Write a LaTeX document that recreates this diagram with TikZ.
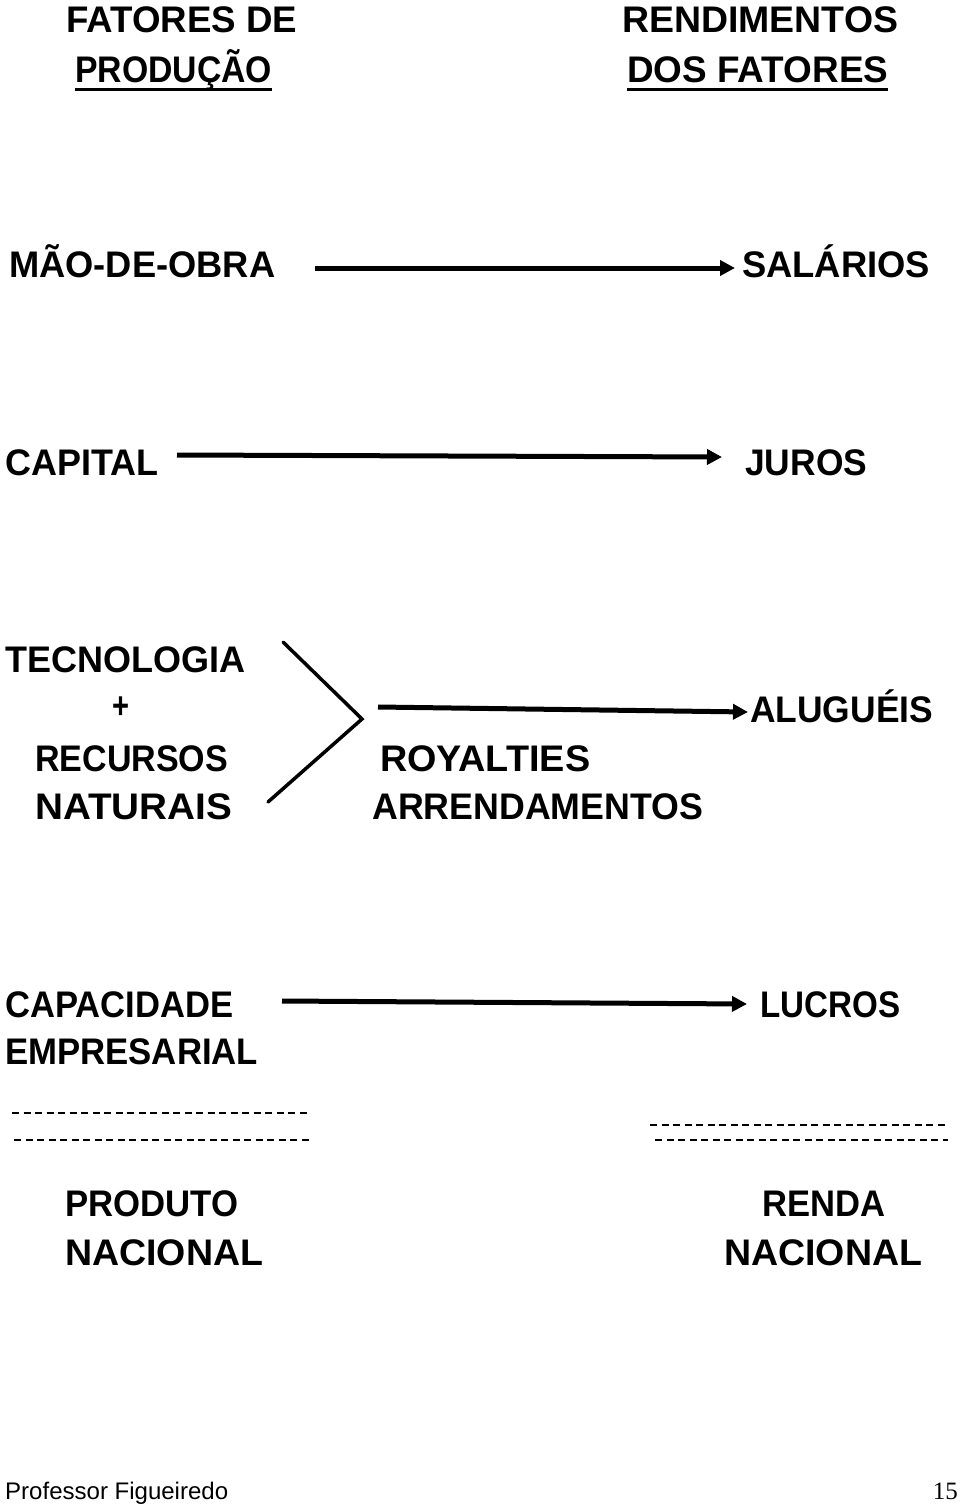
\documentclass[tikz,border=0pt]{standalone}
\usepackage{fontspec}
\usepackage{graphicx}
\setmainfont{Liberation Sans}
\newfontfamily\numfont{Liberation Serif}
\newcommand\fitw[2]{\resizebox{#1pt}{\height}{#2}}
\usetikzlibrary{arrows.meta}
\begin{document}
\begin{tikzpicture}[x=1pt,y=-1pt,
  lbl/.style={anchor=base west,inner sep=0pt,font=\bfseries\fontsize{37}{40}\selectfont},
  foot/.style={anchor=base west,inner sep=0pt,font=\fontsize{24}{26}\selectfont},
  flow/.style={line width=5pt,-{Triangle[length=15pt,width=15pt]}},
  chev/.style={line width=3.5pt,line cap=round},
  dashline/.style={line width=2pt,dash pattern=on 7pt off 4.5pt},
  uline/.style={line width=3pt}]
\useasboundingbox (0,0) rectangle (960,1504);
% headers
\node[lbl] (fat) at (66,33) {\fitw{231}{FATORES DE}};
\node[lbl] (prod) at (75,82) {\fitw{197}{PRODUÇÃO}};
\draw[uline] ([yshift=-7pt]prod.base west) -- ([yshift=-7pt]prod.base east);
\node[lbl] (rend) at (622,33) {\fitw{276}{RENDIMENTOS}};
\node[lbl] (dos) at (627,82) {\fitw{261}{DOS FATORES}};
\draw[uline] ([yshift=-7pt]dos.base west) -- ([yshift=-7pt]dos.base east);
% row 1
\node[lbl] (mao) at (9,277) {\fitw{266}{MÃO-DE-OBRA}};
\node[lbl] (sal) at (742,277) {\fitw{188}{SALÁRIOS}};
\coordinate (a1s) at (315,268);
\coordinate (a1e) at (735,268);
\draw[flow] (a1s) -- (a1e);
% row 2
\node[lbl] (cap) at (5,475) {\fitw{153}{CAPITAL}};
\node[lbl] (jur) at (745,475) {\fitw{122}{JUROS}};
\coordinate (a2s) at (177,455);
\coordinate (a2e) at (722,457);
\draw[flow] (a2s) -- (a2e);
% row 3
\node[lbl] (tec) at (5,672) {\fitw{240}{TECNOLOGIA}};
\node[lbl] (plus) at (112,718) {\fitw{17}{+}};
\node[lbl] (rec) at (35,771) {\fitw{193}{RECURSOS}};
\node[lbl] (nat) at (35,819) {\fitw{197}{NATURAIS}};
\coordinate (c1) at (283,642);
\coordinate (c2) at (362,719);
\coordinate (c3) at (268,802);
\draw[chev] (c1) -- (c2) -- (c3);
\node[lbl] (alu) at (750,722) {\fitw{183}{ALUGUÉIS}};
\coordinate (a3s) at (378,707);
\coordinate (a3e) at (748,712);
\draw[flow] (a3s) -- (a3e);
\node[lbl] (roy) at (380,771) {\fitw{210}{ROYALTIES}};
\node[lbl] (arr) at (372,819) {\fitw{331}{ARRENDAMENTOS}};
% row 4
\node[lbl] (capa) at (5,1017) {\fitw{228}{CAPACIDADE}};
\node[lbl] (emp) at (5,1064) {\fitw{253}{EMPRESARIAL}};
\node[lbl] (luc) at (760,1017) {\fitw{140}{LUCROS}};
\coordinate (a4s) at (282,1001);
\coordinate (a4e) at (747,1004);
\draw[flow] (a4s) -- (a4e);
% dashes
\coordinate (d1s) at (12,1113); \coordinate (d1e) at (308,1113);
\coordinate (d2s) at (14,1140); \coordinate (d2e) at (310,1140);
\coordinate (d3s) at (650,1125); \coordinate (d3e) at (948,1125);
\coordinate (d4s) at (655,1140); \coordinate (d4e) at (948,1140);
\draw[dashline] (d1s) -- (d1e);
\draw[dashline] (d2s) -- (d2e);
\draw[dashline] (d3s) -- (d3e);
\draw[dashline] (d4s) -- (d4e);
% totals
\node[lbl] (pro) at (65,1216) {\fitw{173}{PRODUTO}};
\node[lbl] (nac1) at (65,1265) {\fitw{198}{NACIONAL}};
\node[lbl] (ren) at (762,1216) {\fitw{123}{RENDA}};
\node[lbl] (nac2) at (724,1265) {\fitw{198}{NACIONAL}};
% footer
\node[foot] (prof) at (5,1499) {\fitw{223}{Professor Figueiredo}};
\node[anchor=base east,inner sep=0pt,font=\numfont\fontsize{25}{27}\selectfont] (pg) at (958,1499) {15};
\end{tikzpicture}
\end{document}
